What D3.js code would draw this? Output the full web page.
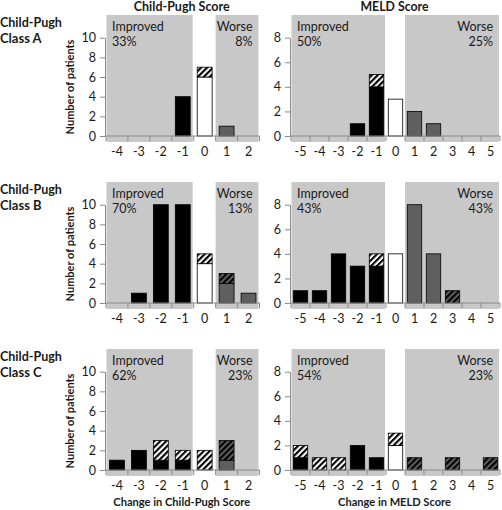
<!DOCTYPE html>
<html><head><meta charset="utf-8">
<script src="https://cdn.jsdelivr.net/npm/d3@7"></script>
<style>
html,body{margin:0;padding:0;background:#fff;}
svg text{font-family:Lato,"Open Sans",sans-serif;}
</style></head>
<body><svg id="c" width="502" height="510"></svg>
<script>
// ---- data ----
const cpCats   = [-4,-3,-2,-1,0,1,2];
const meldCats = [-5,-4,-3,-2,-1,0,1,2,3,4,5];
const rowClasses = ["Class A","Class B","Class C"];
// Child-Pugh score change: solid and hatched counts per category
const cpSolidA   = [0,0,0,4,6,1,0];
const cpHatchA   = [0,0,0,0,1,0,0];
const cpSolidB   = [0,1,10,10,4,2,1];
const cpHatchB   = [0,0,0,0,1,1,0];
const cpSolidC   = [1,2,1,1,0,1,0];
const cpHatchC   = [0,0,2,1,2,2,0];
// MELD score change
const meldSolidA = [0,0,0,1,4,3,2,1,0,0,0];
const meldHatchA = [0,0,0,0,1,0,0,0,0,0,0];
const meldSolidB = [1,1,4,3,3,4,8,4,0,0,0];
const meldHatchB = [0,0,0,0,1,0,0,0,1,0,0];
const meldSolidC = [1,0,0,2,1,2,0,0,0,0,0];
const meldHatchC = [1,1,1,0,0,1,1,0,1,0,1];
const cpImproved   = ["33%","70%","62%"];
const cpWorse      = ["8%","13%","23%"];
const meldImproved = ["50%","43%","54%"];
const meldWorse    = ["25%","43%","23%"];
const cpYTicks   = [0,2,4,6,8,10];
const meldYTicks = [0,2,4,6,8];

// ---- styling ----
const GRAY_BG = "#c8c8c8", WORSE = "#5f5f5f", AXIS = "#8a8a8a", TXT = "#1a1a1a";
const svg = d3.select("#c");
const defs = svg.append("defs");
function hatch(id, bg){
  const p = defs.append("pattern").attr("id",id).attr("patternUnits","userSpaceOnUse")
    .attr("width",4.2).attr("height",4.2).attr("patternTransform","rotate(45)");
  p.append("rect").attr("width",4.2).attr("height",4.2).attr("fill",bg);
  p.append("rect").attr("width",2.1).attr("height",4.2).attr("fill","#000");
}
hatch("hW","#fff"); hatch("hG",WORSE);

// fit a text's font size so that it spans a given width
function fit(sel, w){
  const fs = +sel.attr("font-size");
  const len = sel.node().getComputedTextLength();
  if(len>0) sel.attr("font-size", (fs*w/len).toFixed(2));
  return sel;
}

const rowTop = r => 15 + r*167;
const panels = [
  {cats:cpCats, x0:106, x1:259.5, ymax:10, ticks:cpYTicks, pad:0.32,
   solid:[cpSolidA,cpSolidB,cpSolidC], hatch:[cpHatchA,cpHatchB,cpHatchC],
   imp:cpImproved, wor:cpWorse, title:"Child-Pugh Score", tw:96, xtitle:"Change in Child-Pugh Score", xtw:137, ylab:true},
  {cats:meldCats, x0:291, x1:500, ymax:8, ticks:meldYTicks, pad:0.24,
   solid:[meldSolidA,meldSolidB,meldSolidC], hatch:[meldHatchA,meldHatchB,meldHatchC],
   imp:meldImproved, wor:meldWorse, title:"MELD Score", tw:68, xtitle:"Change in MELD Score", xtw:113, ylab:false}
];

panels.forEach(P=>{
  const xb = d3.scaleBand().domain(P.cats).range([P.x0,P.x1]).paddingInner(P.pad).paddingOuter(P.pad/2);
  const step = xb.step();
  const bandStart = c => xb(c) - xb.paddingInner()*step/2;
  const cx = (P.x0+P.x1)/2 - 1;
  fit(svg.append("text").attr("x",cx).attr("y",11).attr("text-anchor","middle")
    .attr("font-weight","bold").attr("font-size",13).attr("fill",TXT).text(P.title), P.tw);
  fit(svg.append("text").attr("x",cx).attr("y",506).attr("text-anchor","middle")
    .attr("font-weight","bold").attr("font-size",11.5).attr("fill",TXT).text(P.xtitle), P.xtw);
  for(let r=0;r<3;r++){
    const top = rowTop(r), y0 = top+121;
    const y = d3.scaleLinear().domain([0,P.ymax]).range([y0, y0-98.3]);
    const g = svg.append("g");
    // shaded regions
    const negs = P.cats.filter(c=>c<0), poss = P.cats.filter(c=>c>0);
    const ix0 = bandStart(negs[0]), ix1 = bandStart(0);
    const wx0 = bandStart(poss[0]), wx1 = P.x1;
    g.append("rect").attr("x",ix0+0.5).attr("y",top).attr("width",ix1-ix0-1.5).attr("height",y0+6-top).attr("fill",GRAY_BG);
    g.append("rect").attr("x",wx0).attr("y",top).attr("width",wx1-wx0-1).attr("height",y0+6-top).attr("fill",GRAY_BG);
    g.append("text").attr("x",ix0+6).attr("y",top+16).attr("font-size",12.5).attr("fill",TXT).text("Improved");
    g.append("text").attr("x",ix0+6).attr("y",top+31).attr("font-size",12.5).attr("fill",TXT).text(P.imp[r]);
    g.append("text").attr("x",wx1-7).attr("y",top+16).attr("font-size",12.5).attr("text-anchor","end").attr("fill",TXT).text("Worse");
    g.append("text").attr("x",wx1-7).attr("y",top+31).attr("font-size",12.5).attr("text-anchor","end").attr("fill",TXT).text(P.wor[r]);
    // bars
    const data = P.cats.map((c,i)=>({c, s:P.solid[r][i], h:P.hatch[r][i]}));
    const solidFill = c => c<0 ? "#000" : (c===0 ? "#fff" : WORSE);
    const hatchFill = c => c>0 ? "url(#hG)" : "url(#hW)";
    g.selectAll(".s").data(data.filter(d=>d.s>0)).join("rect")
      .attr("x",d=>xb(d.c)).attr("width",xb.bandwidth())
      .attr("y",d=>y(d.s)).attr("height",d=>y(0)-y(d.s))
      .attr("fill",d=>solidFill(d.c)).attr("stroke","#000").attr("stroke-width",0.8);
    g.selectAll(".h").data(data.filter(d=>d.h>0)).join("rect")
      .attr("x",d=>xb(d.c)).attr("width",xb.bandwidth())
      .attr("y",d=>y(d.s+d.h)).attr("height",d=>y(d.s)-y(d.s+d.h))
      .attr("fill",d=>hatchFill(d.c)).attr("stroke","#000").attr("stroke-width",0.8);
    // x axis
    const xa = g.append("g").attr("transform",`translate(0,${y0})`);
    xa.append("line").attr("x1",P.x0-1).attr("x2",P.x1).attr("stroke",AXIS);
    const bounds = P.cats.map(bandStart).concat([P.x1]);
    xa.selectAll(".t").data(bounds).join("line").attr("x1",d=>d).attr("x2",d=>d).attr("y1",0).attr("y2",5).attr("stroke",AXIS);
    xa.selectAll(".l").data(P.cats).join("text").attr("x",d=>xb(d)+xb.bandwidth()/2).attr("y",20)
      .attr("text-anchor","middle").attr("font-size",12.5).attr("fill",TXT).text(d=>d);
    // y axis
    const ya = g.append("g").attr("transform",`translate(${P.x0-1},0)`)
      .call(d3.axisLeft(y).tickValues(P.ticks).tickSize(5).tickSizeOuter(0).tickPadding(4));
    ya.select(".domain").attr("stroke",AXIS);
    ya.selectAll(".tick line").attr("stroke",AXIS);
    ya.selectAll(".tick text").attr("font-size",12.5).attr("fill",TXT).attr("font-family","Lato");
    if(P.ylab){
      fit(g.append("text").attr("transform",`translate(74,${y0-49}) rotate(-90)`).attr("text-anchor","middle")
        .attr("font-weight","bold").attr("font-size",11.5).attr("fill",TXT).text("Number of patients"), 95);
      fit(g.append("text").attr("x",0).attr("y",top+12).attr("font-weight","bold").attr("font-size",13).attr("fill",TXT).text("Child-Pugh"), 62);
      g.append("text").attr("x",0).attr("y",top+28).attr("font-weight","bold").attr("font-size",13).attr("fill",TXT).text(rowClasses[r]);
    }
  }
});
</script></body></html>
